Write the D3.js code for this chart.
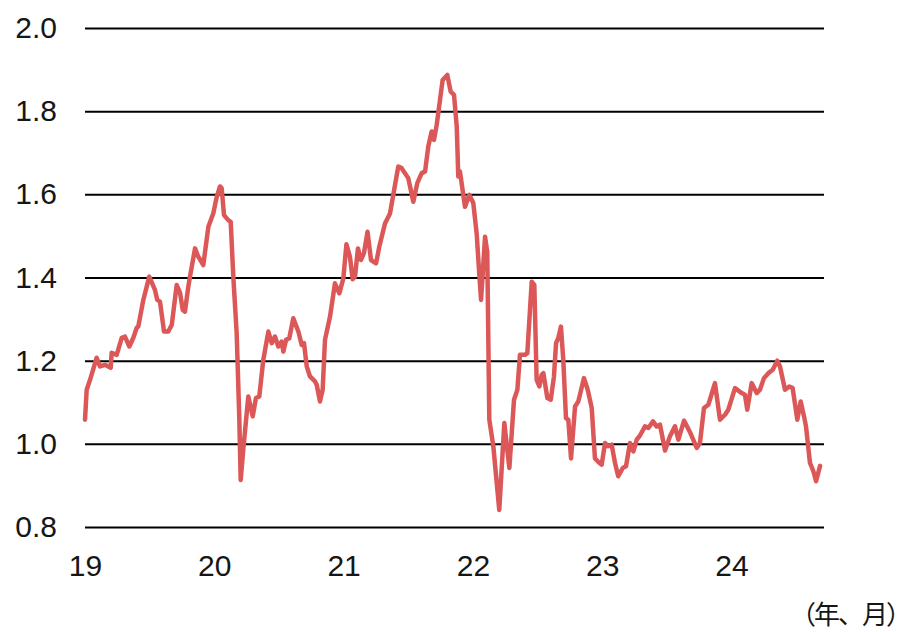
<!DOCTYPE html>
<html>
<head>
<meta charset="utf-8">
<script src="https://cdn.jsdelivr.net/npm/d3@7/dist/d3.min.js"></script>
<style>
  html, body { margin: 0; padding: 0; background: #fff; }
  svg { display: block; }
</style>
</head>
<body>
<svg id="chart" width="912" height="632"></svg>
<script>
// Observation times (decimal years) and ratio values
const times = [
  2019.000, 2019.013, 2019.039, 2019.090, 2019.116, 2019.155, 2019.180, 2019.199, 2019.206, 2019.245,
  2019.284, 2019.309, 2019.343, 2019.374, 2019.400, 2019.412, 2019.451, 2019.497, 2019.541, 2019.559,
  2019.580, 2019.611, 2019.644, 2019.671, 2019.709, 2019.735, 2019.756, 2019.773, 2019.799, 2019.812,
  2019.851, 2019.876, 2019.915, 2019.954, 2019.992, 2020.019, 2020.044, 2020.057, 2020.075, 2020.108,
  2020.127, 2020.147, 2020.173, 2020.193, 2020.204, 2020.224, 2020.263, 2020.297, 2020.322, 2020.348,
  2020.379, 2020.418, 2020.444, 2020.469, 2020.495, 2020.521, 2020.534, 2020.555, 2020.580, 2020.611,
  2020.650, 2020.676, 2020.694, 2020.715, 2020.740, 2020.779, 2020.792, 2020.817, 2020.838, 2020.856,
  2020.895, 2020.933, 2020.967, 2020.998, 2021.022, 2021.049, 2021.070, 2021.088, 2021.111, 2021.134,
  2021.157, 2021.185, 2021.212, 2021.251, 2021.276, 2021.320, 2021.359, 2021.423, 2021.449, 2021.500,
  2021.539, 2021.570, 2021.604, 2021.630, 2021.655, 2021.681, 2021.699, 2021.720, 2021.766, 2021.802,
  2021.828, 2021.854, 2021.875, 2021.887, 2021.900, 2021.939, 2021.972, 2022.003, 2022.029, 2022.049,
  2022.063, 2022.094, 2022.111, 2022.127, 2022.158, 2022.204, 2022.243, 2022.282, 2022.318, 2022.344,
  2022.364, 2022.403, 2022.421, 2022.455, 2022.475, 2022.493, 2022.514, 2022.532, 2022.545, 2022.576,
  2022.602, 2022.627, 2022.643, 2022.660, 2022.681, 2022.699, 2022.720, 2022.738, 2022.759, 2022.790,
  2022.815, 2022.859, 2022.888, 2022.919, 2022.944, 2022.978, 2022.996, 2023.022, 2023.047, 2023.073,
  2023.099, 2023.124, 2023.159, 2023.184, 2023.215, 2023.241, 2023.267, 2023.292, 2023.331, 2023.357,
  2023.393, 2023.420, 2023.447, 2023.486, 2023.524, 2023.563, 2023.589, 2023.633, 2023.679, 2023.731,
  2023.756, 2023.787, 2023.821, 2023.872, 2023.911, 2023.950, 2023.975, 2024.027, 2024.079, 2024.104,
  2024.122, 2024.156, 2024.195, 2024.220, 2024.251, 2024.285, 2024.319, 2024.354, 2024.375, 2024.414,
  2024.447, 2024.473, 2024.509, 2024.535, 2024.561, 2024.576, 2024.607, 2024.633, 2024.654, 2024.671,
  2024.685
];
const values = [
  1.058, 1.130, 1.154, 1.207, 1.186, 1.190, 1.186, 1.183, 1.219, 1.214,
  1.255, 1.258, 1.234, 1.255, 1.279, 1.282, 1.346, 1.402, 1.370, 1.346,
  1.342, 1.270, 1.270, 1.286, 1.382, 1.363, 1.322, 1.318, 1.378, 1.402,
  1.470, 1.450, 1.430, 1.522, 1.554, 1.594, 1.619, 1.615, 1.550, 1.538,
  1.534, 1.402, 1.266, 1.066, 0.913, 0.986, 1.114, 1.066, 1.110, 1.114,
  1.202, 1.270, 1.242, 1.258, 1.234, 1.246, 1.222, 1.250, 1.254, 1.302,
  1.270, 1.238, 1.242, 1.186, 1.162, 1.150, 1.142, 1.102, 1.130, 1.250,
  1.306, 1.386, 1.362, 1.398, 1.480, 1.450, 1.396, 1.402, 1.470, 1.442,
  1.458, 1.510, 1.442, 1.434, 1.474, 1.530, 1.554, 1.667, 1.663, 1.639,
  1.582, 1.627, 1.651, 1.655, 1.715, 1.751, 1.731, 1.767, 1.875, 1.887,
  1.847, 1.839, 1.763, 1.643, 1.655, 1.570, 1.599, 1.579, 1.506, 1.410,
  1.346, 1.498, 1.462, 1.058, 0.994, 0.841, 1.050, 0.942, 1.106, 1.130,
  1.214, 1.214, 1.218, 1.390, 1.382, 1.154, 1.138, 1.166, 1.170, 1.110,
  1.106, 1.162, 1.242, 1.254, 1.282, 1.202, 1.062, 1.058, 0.965, 1.090,
  1.102, 1.158, 1.130, 1.086, 0.965, 0.954, 0.950, 1.002, 0.994, 0.998,
  0.954, 0.922, 0.942, 0.946, 1.002, 0.982, 1.010, 1.020, 1.042, 1.038,
  1.054, 1.042, 1.046, 0.984, 1.018, 1.042, 1.010, 1.056, 1.028, 0.990,
  1.002, 1.086, 1.094, 1.146, 1.058, 1.070, 1.082, 1.134, 1.122, 1.118,
  1.082, 1.146, 1.122, 1.130, 1.158, 1.170, 1.178, 1.200, 1.186, 1.130,
  1.138, 1.134, 1.058, 1.102, 1.066, 1.042, 0.954, 0.934, 0.910, 0.930,
  0.947
];
const yTicks = [0.8, 1.0, 1.2, 1.4, 1.6, 1.8, 2.0];
const xTicks = [2019, 2020, 2021, 2022, 2023, 2024];
const xTickLabels = ["19", "20", "21", "22", "23", "24"];
const axisNote = "（年、月）";

const svg = d3.select("#chart");
const left = 85, gridRight = 824;

const x = d3.scaleLinear().domain([2019, 2025]).range([left, left + 6 * 129.3]);
const y = d3.scaleLinear().domain([0.8, 2.0]).range([527, 28]);

const font = "'Liberation Sans', Arial, sans-serif";
const ink = "#161616";

// Horizontal gridlines with value labels on the left
const yAxis = d3.axisLeft(y)
  .tickValues(yTicks)
  .tickSize(-(gridRight - left))
  .tickPadding(28)
  .tickFormat(d3.format(".1f"));

const gy = svg.append("g")
  .attr("transform", `translate(${left},0)`)
  .call(yAxis);
gy.select(".domain").remove();
gy.selectAll(".tick line").attr("stroke", "#000").attr("stroke-width", 2);
gy.selectAll(".tick text")
  .attr("fill", ink)
  .style("font-family", font)
  .style("font-size", "30px");

// Year labels along the bottom
const xAxis = d3.axisBottom(x)
  .tickValues(xTicks)
  .tickSize(0)
  .tickPadding(28)
  .tickFormat((d, i) => xTickLabels[i]);

const gx = svg.append("g")
  .attr("transform", "translate(0,527)")
  .call(xAxis);
gx.select(".domain").remove();
gx.selectAll(".tick text")
  .attr("fill", ink)
  .style("font-family", font)
  .style("font-size", "30px");

// The series line
const data = times.map((t, i) => ({ t, v: values[i] }));
const line = d3.line()
  .x(d => x(d.t))
  .y(d => y(d.v));

svg.append("path")
  .datum(data)
  .attr("fill", "none")
  .attr("stroke", "#dc5757")
  .attr("stroke-width", 4.5)
  .attr("stroke-linejoin", "round")
  .attr("stroke-linecap", "round")
  .attr("d", line);

// Axis unit note, kept inside the right edge
svg.append("text")
  .attr("x", 790)
  .attr("y", 624)
  .attr("text-anchor", "start")
  .attr("fill", ink)
  .style("font-family", "'Noto Sans CJK JP', sans-serif")
  .style("font-size", "26px")
  .style("letter-spacing", "-2px")
  .text(axisNote);
</script>
</body>
</html>
